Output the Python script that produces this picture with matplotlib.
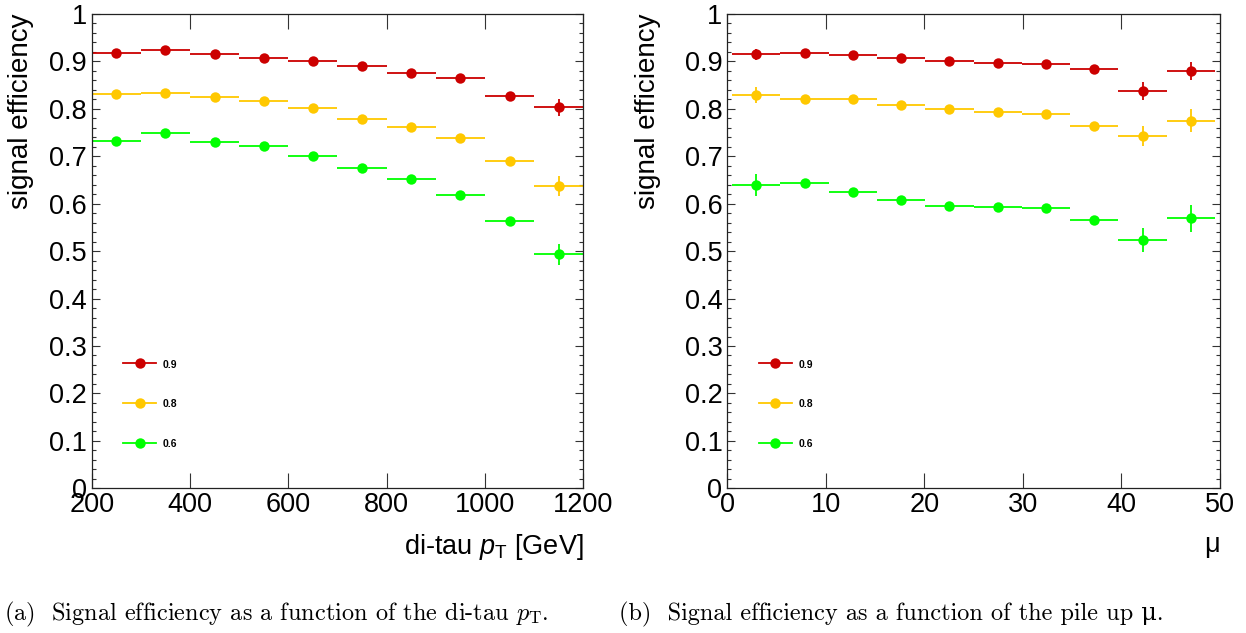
import numpy as np
import matplotlib
matplotlib.use("Agg")
import matplotlib.pyplot as plt
from matplotlib.lines import Line2D
from matplotlib.ticker import MultipleLocator, FuncFormatter, NullLocator

# working points shown in the legend
labels = ["0.9", "0.8", "0.6"]
colors = ["#cc0000", "#ffc800", "#00ff00"]

# (a) efficiency vs di-tau pT, bins of 100 GeV from 200 to 1200
pt_edges = [200, 300, 400, 500, 600, 700, 800, 900, 1000, 1100, 1200]
pt_eff = [
    [0.918, 0.925, 0.915, 0.908, 0.901, 0.891, 0.875, 0.865, 0.828, 0.803],
    [0.831, 0.834, 0.826, 0.817, 0.802, 0.778, 0.762, 0.739, 0.691, 0.638],
    [0.733, 0.750, 0.730, 0.722, 0.701, 0.675, 0.653, 0.619, 0.564, 0.493],
]
pt_err = [
    [0.002, 0.002, 0.002, 0.002, 0.002, 0.003, 0.003, 0.004, 0.005, 0.018],
    [0.002, 0.002, 0.002, 0.003, 0.003, 0.003, 0.004, 0.005, 0.008, 0.021],
    [0.003, 0.003, 0.003, 0.003, 0.003, 0.004, 0.004, 0.005, 0.008, 0.022],
]

# (b) efficiency vs pile up mu
mu_edges = [0.5, 5.4, 10.3, 15.2, 20.1, 25.0, 29.9, 34.8, 39.7, 44.6, 49.5]
mu_eff = [
    [0.915, 0.918, 0.913, 0.907, 0.901, 0.896, 0.894, 0.884, 0.838, 0.880],
    [0.830, 0.821, 0.820, 0.808, 0.800, 0.794, 0.789, 0.764, 0.742, 0.775],
    [0.639, 0.643, 0.625, 0.607, 0.595, 0.593, 0.592, 0.566, 0.524, 0.569],
]
mu_err = [
    [0.012, 0.004, 0.004, 0.004, 0.004, 0.004, 0.004, 0.005, 0.019, 0.019],
    [0.017, 0.004, 0.004, 0.004, 0.004, 0.004, 0.004, 0.006, 0.021, 0.024],
    [0.023, 0.005, 0.004, 0.004, 0.004, 0.004, 0.004, 0.007, 0.025, 0.028],
]

plt.rcParams["font.family"] = ["Liberation Sans", "DejaVu Sans"]
plt.rcParams["mathtext.fontset"] = "custom"
plt.rcParams["mathtext.rm"] = "Liberation Sans"
plt.rcParams["mathtext.it"] = "Liberation Sans:italic"
# sf/tt slots are borrowed for the Computer Modern caption
plt.rcParams["mathtext.sf"] = "cmmi10"
plt.rcParams["mathtext.tt"] = "cmr10"

TICK_FS = 19.5
LEG_FS = 7.5


def draw_panel(ax, edges, effs, errs, xlabel, xlim, xmajor):
    edges = np.asarray(edges, dtype=float)
    centers = 0.5 * (edges[:-1] + edges[1:])
    half = 0.5 * np.diff(edges)
    for eff, err, c in zip(effs, errs, colors):
        ax.errorbar(centers, eff, xerr=half, yerr=err, fmt="o", color=c,
                    ms=7.5, elinewidth=1.3, capsize=0, mew=0)

    ax.set_xlim(*xlim)
    ax.set_ylim(0, 1)
    ax.xaxis.set_major_locator(MultipleLocator(xmajor))
    ax.xaxis.set_minor_locator(NullLocator())
    ax.yaxis.set_major_locator(MultipleLocator(0.1))
    ax.yaxis.set_minor_locator(MultipleLocator(0.02))
    ax.yaxis.set_major_formatter(FuncFormatter(lambda v, p: "%g" % round(v, 2)))
    ax.tick_params(which="both", direction="in", top=True, right=True,
                   labelsize=TICK_FS, color="#333333", width=0.8)
    ax.tick_params(axis="x", which="major", length=11, pad=3)
    ax.tick_params(axis="y", which="major", length=6, pad=3.5)
    ax.tick_params(axis="y", which="minor", length=3.2)
    for sp in ax.spines.values():
        sp.set_linewidth(0.9)
        sp.set_color("#222222")

    ax.set_xlabel(xlabel, fontsize=TICK_FS, loc="right", labelpad=10)
    ax.set_ylabel("signal efficiency", fontsize=20, loc="top")

    handles = [Line2D([], [], color=c, marker="o", ms=7.5, lw=1.3, mew=0)
               for c in colors]
    ax.legend(handles, labels, loc="center left", bbox_to_anchor=(0.064, 0.177),
              frameon=False, borderpad=0, borderaxespad=0, handlelength=3.2,
              handleheight=1.0, handletextpad=0.6, labelspacing=2.85,
              prop={"size": LEG_FS, "weight": "bold"})


fig = plt.figure(figsize=(12.46, 6.33), dpi=100)
ax1 = fig.add_axes([0.0736, 0.2286, 0.3945, 0.7493])
ax2 = fig.add_axes([0.5837, 0.2286, 0.3954, 0.7493])

draw_panel(ax1, pt_edges, pt_eff, pt_err, r"di-tau $\mathit{p}_{\mathrm{T}}$ [GeV]",
           (200, 1200), 200)
draw_panel(ax2, mu_edges, mu_eff, mu_err, "\u03bc", (0, 50), 10)
ax1.yaxis.set_label_coords(-0.118, 1.0)
ax2.yaxis.set_label_coords(-0.134, 1.0)

cap = dict(fontsize=17.5, family=["cmr10", "DejaVu Serif"], va="baseline", ha="left")
fig.text(0.0032, 0.0205,
         r"(a)  Signal efficiency as a function of the di-tau $\mathsf{p}_{\mathtt{T}}$.", **cap)
fig.text(0.4967, 0.0205,
         "(b)  Signal efficiency as a function of the pile up \u03bc.", **cap)

fig.savefig("out.png", dpi=100)
